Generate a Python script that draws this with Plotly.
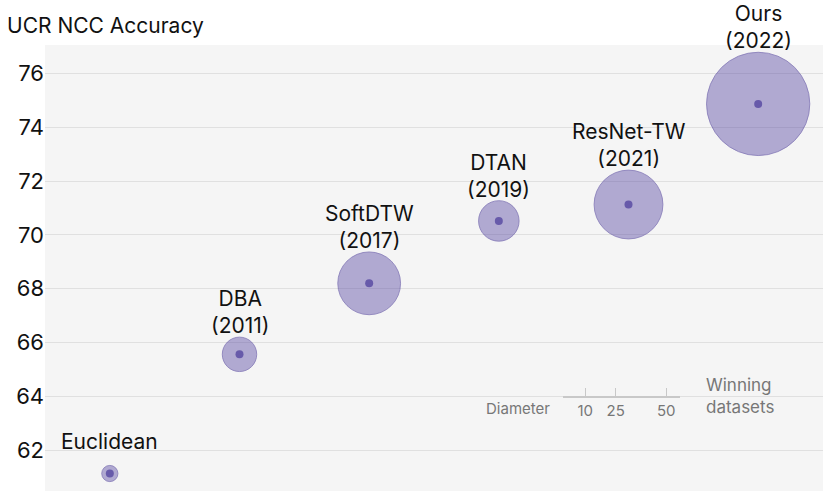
import plotly.graph_objects as go

# ---- data ----
methods = ["Euclidean", "DBA", "SoftDTW", "DTAN", "ResNet-TW", "Ours"]
years = ["", "2011", "2017", "2019", "2021", "2022"]
accuracy = [61.13, 65.56, 68.2, 70.52, 71.13, 74.87]
winning_datasets = [8, 17, 31, 20, 34, 51]
scale_ticks = [10, 25, 50]
y_ticks = [62, 64, 66, 68, 70, 72, 74, 76]

# ---- layout constants ----
W, H = 830, 498
ML, MR, MT, MB = 45, 7, 45, 7
PW = W - ML - MR
PH = H - MT - MB
PX_PER_DATASET = 2.025  # bubble diameter in px per winning dataset

FONT = "Inter"
BUBBLE_FILL = "rgba(92,76,165,0.64)"
BUBBLE_LINE = "rgba(85,70,158,0.8)"
DOT = "rgba(85,70,160,0.8)"
GRAY = "#777777"
LABEL_PAD = -3
SINGLE_LINE_EXTRA = 12

sizes = [d * PX_PER_DATASET for d in winning_datasets]

fig = go.Figure()
fig.add_trace(go.Scatter(
    x=methods, y=accuracy, mode="markers",
    marker=dict(size=sizes, sizemode="diameter", color=BUBBLE_FILL,
                line=dict(color=BUBBLE_LINE, width=1)),
    cliponaxis=False, showlegend=False, hoverinfo="skip",
))
fig.add_trace(go.Scatter(
    x=methods, y=accuracy, mode="markers",
    marker=dict(size=8, color=DOT, line=dict(width=0)),
    cliponaxis=False, showlegend=False, hoverinfo="skip",
))

annotations = []
for m, yr, acc, s in zip(methods, years, accuracy, sizes):
    txt = m + ("<br>(" + yr + ")" if yr else "")
    shift = s / 2 + LABEL_PAD + (0 if yr else SINGLE_LINE_EXTRA)
    annotations.append(dict(
        x=m, y=acc, xref="x", yref="y", text=txt, showarrow=False,
        xanchor="center", yanchor="bottom", yshift=shift, align="center",
        font=dict(family=FONT, size=21, color="#111111")))

# size scale legend drawn as a secondary axis whose px scale matches the bubbles
scale_range = [-1, 57]
scale_left_px = 563
dom0 = (scale_left_px - ML) / PW
dom1 = dom0 + (scale_range[1] - scale_range[0]) * PX_PER_DATASET / PW
line_y_px = 396
ydom0 = (H - MB - line_y_px) / PH

fig.add_trace(go.Scatter(x=[None], y=[None], xaxis="x2", yaxis="y2",
                         showlegend=False, hoverinfo="skip"))

annotations += [
    dict(text="Diameter", xref="paper", yref="paper",
         x=(518 - ML) / PW, y=(H - MB - 408) / PH,
         showarrow=False, xanchor="center", yanchor="middle",
         font=dict(family=FONT, size=15, color=GRAY)),
    dict(text="Winning<br>datasets", xref="paper", yref="paper",
         x=(704 - ML) / PW, y=(H - MB - 396) / PH,
         showarrow=False, xanchor="left", yanchor="middle", align="left",
         font=dict(family=FONT, size=17, color=GRAY)),
]

fig.update_layout(
    width=W, height=H,
    margin=dict(l=ML, r=MR, t=MT, b=MB, autoexpand=False),
    paper_bgcolor="white", plot_bgcolor="#f5f5f5",
    font=dict(family=FONT, color="#111111"),
    title=dict(text="UCR NCC Accuracy", x=7 / W, xref="container", xanchor="left",
               y=1 - 26 / H, yanchor="middle",
               font=dict(family=FONT, size=21, color="#111111")),
    xaxis=dict(showticklabels=False, showgrid=False, zeroline=False,
               ticks="", range=[-0.5, 5.5], fixedrange=True),
    yaxis=dict(range=[60.48, 77.06], tickvals=y_ticks, showgrid=True,
               gridcolor="#e0e0e0", gridwidth=1, zeroline=False, ticks="",
               automargin=False,
               tickfont=dict(family=FONT, size=22, color="#111111"),
               fixedrange=True),
    xaxis2=dict(domain=[dom0, dom1], anchor="y2", range=scale_range,
                tickvals=scale_ticks, ticks="inside", ticklen=8,
                tickcolor="#c8c8c8", tickwidth=1, showline=True,
                linecolor="#c8c8c8", linewidth=2, showgrid=False,
                zeroline=False, tickfont=dict(family=FONT, size=15, color=GRAY),
                automargin=False, fixedrange=True),
    yaxis2=dict(domain=[ydom0, ydom0 + 0.05], anchor="x2", visible=False,
                fixedrange=True),
    annotations=annotations,
)

fig.write_html("out.html", config={"displayModeBar": False},
               post_script="document.body.style.margin='0';document.body.style.padding='0';")
